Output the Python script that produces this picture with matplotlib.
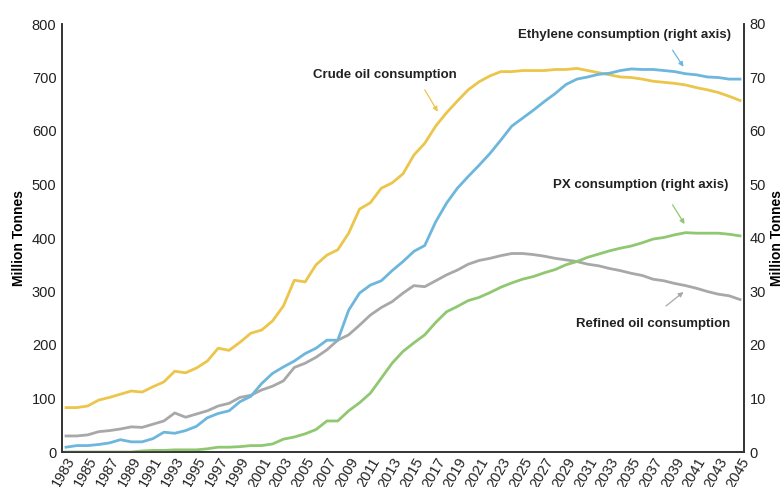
import matplotlib
matplotlib.use("Agg")
import matplotlib.pyplot as plt
import numpy as np

plt.rcParams['font.family'] = ['Liberation Sans', 'DejaVu Sans']

years = list(range(1983, 2046))

crude_oil = [83, 83, 86, 97, 102, 108, 114, 112, 122, 131, 151, 148, 157, 170, 194, 190,
             205, 222, 228, 245, 273, 321, 318, 350, 368, 378, 409, 454, 466, 493, 503, 520,
             555, 577, 609, 634, 656, 677, 692, 703, 711, 711, 713, 713, 713, 715, 715, 717,
             713, 709, 705, 701, 700, 697, 693, 691, 689, 686, 681, 677, 672, 665, 657]

refined_oil = [30, 30, 32, 38, 40, 43, 47, 46, 52, 58, 73, 65, 71, 77, 86, 91,
               102, 106, 116, 123, 133, 158, 166, 177, 191, 209, 219, 237, 256, 270, 281, 297,
               311, 309, 320, 331, 340, 351, 358, 362, 367, 371, 371, 369, 366, 362, 359, 356,
               351, 348, 343, 339, 334, 330, 323, 320, 315, 311, 306, 300, 295, 292, 285]

# right axis (Million Tonnes, 0-80)
ethylene = [0.9, 1.2, 1.2, 1.4, 1.7, 2.3, 1.9, 1.9, 2.5, 3.7, 3.5, 4.0, 4.8, 6.4, 7.2, 7.7,
            9.4, 10.4, 12.8, 14.7, 15.9, 17.0, 18.4, 19.4, 20.9, 20.9, 26.5, 29.7, 31.2, 32.0, 33.9, 35.6,
            37.5, 38.6, 43.0, 46.5, 49.3, 51.5, 53.6, 55.8, 58.3, 60.9, 62.4, 63.9, 65.5, 67.0, 68.7, 69.7,
            70.1, 70.6, 70.8, 71.3, 71.6, 71.5, 71.5, 71.3, 71.1, 70.7, 70.5, 70.1, 70.0, 69.7, 69.7]

px = [0, 0, 0, 0, 0, 0, 0, 0.2, 0.3, 0.3, 0.4, 0.4, 0.4, 0.6, 0.9, 0.9,
      1.0, 1.2, 1.2, 1.5, 2.4, 2.8, 3.4, 4.2, 5.8, 5.8, 7.7, 9.2, 11.0, 13.8, 16.6, 18.8,
      20.4, 21.9, 24.2, 26.2, 27.2, 28.3, 28.9, 29.8, 30.8, 31.6, 32.3, 32.8, 33.5, 34.1, 35.0, 35.6,
      36.4, 37.0, 37.6, 38.1, 38.5, 39.1, 39.8, 40.1, 40.6, 41.0, 40.9, 40.9, 40.9, 40.7, 40.4]

xtick_years = list(range(1983, 2046, 2))

c_crude = '#ECC54B'
c_eth = '#6DB6DC'
c_ref = '#A8A8A8'
c_px = '#8FC871'

fig = plt.figure(figsize=(7.81, 4.87), dpi=100)
ax = fig.add_axes([62/781, 35/487, (744-62)/781, (452-24)/487])
ax2 = ax.twinx()

lw = 2.0
ax.plot(years, crude_oil, color=c_crude, lw=lw)
ax.plot(years, refined_oil, color=c_ref, lw=lw)
ax2.plot(years, ethylene, color=c_eth, lw=lw)
ax2.plot(years, px, color=c_px, lw=lw)

ax.set_xlim(1982.63, 2045.37)
ax.set_ylim(0, 800)
ax2.set_ylim(0, 80)
ax.set_yticks(range(0, 801, 100))
ax2.set_yticks(range(0, 81, 10))
ax.set_xticks(xtick_years)
ax.set_xticklabels([str(y) for y in xtick_years], rotation=60, ha='right',
                   rotation_mode='anchor', fontsize=10.5)

for a in (ax, ax2):
    a.spines['top'].set_visible(False)
    for s in ('left', 'right', 'bottom'):
        a.spines[s].set_color('#333333')
        a.spines[s].set_linewidth(1.2)
    a.tick_params(axis='both', length=0, labelsize=10.5, colors='#222222', pad=4)

ax.tick_params(axis='x', pad=2)
ax.set_ylabel('Million Tonnes', fontsize=10, fontweight='bold', labelpad=4)
ax2.set_ylabel('Million Tonnes', fontsize=10, fontweight='bold', labelpad=3)

tkw = dict(fontsize=9.5, fontweight='bold', color='#222222', ha='center', va='center')

def note(text, txy, a0, a1, color):
    ax.text(txy[0], txy[1], text, **tkw)
    ax.annotate('', xy=a1, xytext=a0,
                arrowprops=dict(arrowstyle='-|>', color=color, lw=0.9,
                                mutation_scale=7, shrinkA=0, shrinkB=0))

note('Crude oil consumption', (2012.3, 705), (2016.0, 677), (2017.2, 636), c_crude)
note('Ethylene consumption (right axis)', (2034.4, 780), (2038.8, 751), (2039.8, 720), c_eth)
note('PX consumption (right axis)', (2035.9, 499), (2038.8, 462), (2039.9, 426), c_px)
note('Refined oil consumption', (2037.0, 239), (2038.2, 273), (2039.8, 299), c_ref)

fig.savefig('out.png', dpi=100)
